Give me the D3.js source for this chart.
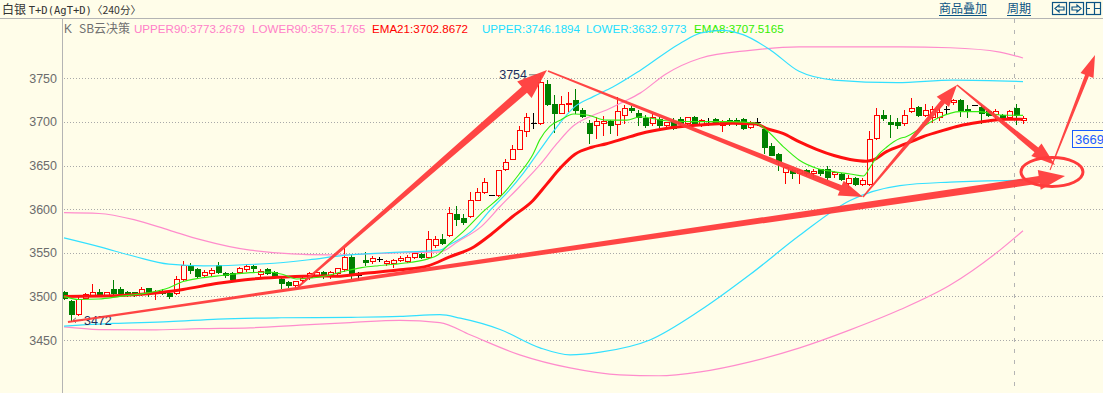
<!DOCTYPE html>
<html>
<head>
<meta charset="utf-8">
<script src="https://cdn.jsdelivr.net/npm/d3@7/dist/d3.min.js"></script>
<style>
  body { margin: 0; background: #fffde9; overflow: hidden; }
  svg { display: block; font-family: "Liberation Sans", Arial, sans-serif; }
</style>
</head>
<body>
<div id="chart"></div>
<script>
// ---- data (bar index 0..137, 240 min bars) ----
var opens = [3505,3495,3480,3498.5,3500.5,3505.5,3501,3509,3509,3505.5,3504.5,3503.5,3509.5,3503.5,3506,3503.5,3503.5,3519.5,3536,3531,
  3524,3526.5,3536,3527,3527,3528.5,3531.5,3535,3525.5,3531,3528,3520,3516,3512.5,3518.5,3522,3524,3527.5,3524,3527,
  3531,3545.5,3524.5,3541.5,3540,3542.5,3538,3538,3541.5,3540.5,3545.5,3548.5,3545.5,3559,3565.5,3570.5,3595,3589.5,3592,3611,
  3620,3616,3616,3645.5,3658,3669.5,3690,3699,3698.5,3743.5,3720.5,3710.5,3720,3725,3713.5,3698.5,3696.5,3698.5,3700.5,3698,
  3708.5,3715.5,3710.5,3705,3698.5,3703,3697,3700.5,3703,3698.5,3706,3697,3701,3703,3697,3702,3702,3703,3694,3699.5,
  3691.5,3672.5,3663,3643,3645,3642,3645,3641,3645.5,3646,3640.5,3640.5,3629.5,3636,3629,3629,3681,3708,3700,3700,
  3698.5,3713,3717.5,3708,3706,3706,3714.5,3723,3725,3714.5,3719.5,3717.5,3712,3709,3708.5,3706,3716.5,3702];
var highs = [3506,3496,3500,3504,3514,3508,3505.5,3519,3511,3506.5,3505.5,3511,3510,3507.5,3508,3504.5,3523.5,3540,3538,3533,
  3530,3532,3539,3528.5,3528.5,3534,3537,3536,3531,3532,3529.5,3521,3518,3518,3522.5,3528,3529,3529,3529,3533,
  3555,3548,3527.5,3550.5,3546,3545,3542,3543,3546.5,3548,3550,3550,3575,3569,3572,3603,3603.5,3594,3620,3624,
  3635.5,3616,3645,3657,3673.5,3695,3710.5,3710,3754,3747.5,3731,3729.5,3734.5,3737.5,3715.5,3702,3706,3707,3702,3728,
  3719.5,3718,3713.5,3708,3709,3706,3700,3704,3706,3706,3707,3703,3704,3704,3702,3704,3704,3704,3700.5,3704,
  3694,3675.5,3664,3648.5,3645.5,3645.5,3645.5,3645.5,3646.5,3649.5,3643.5,3642,3639,3636.5,3635.5,3690,3715.5,3713.5,3708,3704,
  3713.5,3727,3718,3720.5,3718,3716,3718,3726,3726,3719.5,3719.5,3719.5,3714.5,3715,3709,3714,3721,3707];
var lows = [3497,3472,3479,3498,3500,3500.5,3500.5,3502.5,3502.5,3500,3500.5,3501.5,3500.5,3496.5,3502.5,3498,3502.5,3519,3527,3522.5,
  3522.5,3524.5,3527,3522.5,3519,3526.5,3529.5,3529.5,3522.5,3525.5,3522,3509.5,3511,3511,3517.5,3520.5,3522.5,3521.5,3521.5,3525.5,
  3529,3521.5,3520,3536,3538,3540,3536.5,3534,3541,3539,3544.5,3544.5,3543.5,3557,3560,3569,3582,3583.5,3591.5,3610.5,
  3619,3616,3615,3644.5,3657,3668.5,3684,3692.5,3697.5,3719.5,3689,3710,3712,3710,3706,3676,3681,3685,3687,3685,
  3698.5,3711.5,3696.5,3694.5,3696.5,3690.5,3695,3691.5,3696,3697.5,3697,3695,3696.5,3698,3690,3697,3697,3691.5,3693.5,3696.5,
  3664,3662,3645,3630.5,3635.5,3629.5,3639,3636.5,3639,3634.5,3637,3633.5,3625,3627.5,3627.5,3628,3680,3702,3682.5,3692.5,
  3696.5,3711.5,3706.5,3706.5,3700,3702,3710.5,3721,3707,3706,3719.5,3698.5,3706.5,3702,3700.5,3703,3697.5,3699];
var closes = [3498,3480,3497,3502.5,3505,3501.5,3504.5,3504,3503.5,3503,3502,3509,3503.5,3505.5,3503.5,3501,3519.5,3536,3530,3523.5,
  3528.5,3530.5,3528.5,3524,3520.5,3532,3535,3532,3529,3526.5,3523,3515,3512.5,3517.5,3521,3526.5,3527.5,3524,3527.5,3532,
  3545.5,3525.5,3524.5,3539.5,3544.5,3542.5,3541,3541.5,3544.5,3545.5,3549.5,3545.5,3566,3565.5,3561,3596,3588.5,3585,3610.5,3620,
  3631.5,3616,3645,3654.5,3669.5,3690.5,3705.5,3699,3746,3720.5,3710,3720,3722,3713.5,3707,3687.5,3700.5,3701,3697,3712,
  3715.5,3713.5,3705.5,3697,3706,3697,3699.5,3692.5,3699,3705.5,3698.5,3702,3701,3699,3699.5,3698.5,3698.5,3692.5,3699.5,3699.5,
  3671.5,3662,3655.5,3648,3641,3645,3642,3644,3641,3636.5,3643,3634,3635.5,3628.5,3633.5,3680,3708,3705,3698,3697,
  3708,3716.5,3708,3713.5,3715,3711,3714.5,3725,3713.5,3712,3719.5,3710,3708.5,3713,3705.5,3712.5,3708.5,3705];

// indicator lines, [bar index, price]
var upper90 = [[0,3596],[5,3595],[10,3588],[15,3576],[19.5,3565],[26.6,3553],[38,3547.5],[48,3550],[53.7,3551],[56.3,3563],
  [59.6,3580],[62.3,3603],[65.1,3626],[68,3651],[70.4,3675],[72.7,3695],[75.1,3706],[77.6,3714],[79.9,3723],[82.3,3733],
  [86,3755],[90.9,3773],[98,3782],[105,3786],[119.4,3786],[126.6,3785],[133.7,3780],[137,3773.3]];
var lower90 = [[0,3465],[5,3462],[12.3,3461.5],[19.4,3463],[26.6,3464],[33.7,3467],[40.9,3470],[48,3472.6],[53.7,3470],[58,3456],
  [65.1,3433],[72.3,3418],[79.4,3410],[85,3409],[90.9,3413.5],[98,3425],[105.1,3441],[112.3,3461.6],[119.4,3484.6],[126.6,3513],
  [133.7,3553],[137,3575.2]];
var upperB = [[0,3567],[5,3557],[10,3546],[15,3537],[20,3535],[25,3536],[30,3538],[35,3542],[40,3547],[46,3550],[53.7,3553],
  [55,3559],[58.4,3576],[60.9,3599],[63.2,3618],[65.6,3641],[68,3668],[70,3690],[72.9,3717],[75.6,3729],[78.4,3740],[82.3,3759],
  [88,3790],[91,3802],[94,3805],[97,3800],[101,3782],[105,3758],[110,3748],[119,3745],[127,3748],[137,3746.2]];
var lowerB = [[0,3466],[7,3469],[15,3471],[22,3474],[31,3475.5],[41,3476],[48,3477],[53.7,3479],[56.6,3475],[62.3,3462],
  [68,3441],[72.3,3433],[76.6,3436],[83.7,3450],[90.9,3484],[98,3525],[105.1,3570],[112.3,3610],[119.4,3627],[126.6,3631],[137,3633]];
var ema21 = [[0,3500],[8,3501],[12,3503],[17,3508],[22,3515],[27,3520],[31,3522],[36,3523.5],[39,3523],[43,3526.5],[48,3530.5],
  [52,3535],[55,3545],[58.6,3557],[61,3571],[64,3591],[67,3610],[69,3629],[71,3648],[73,3663],[75.4,3671],[77.5,3675],[80,3681],
  [82.3,3686.5],[86,3692.5],[90.8,3696.5],[95.5,3698.4],[98.9,3697.6],[100.3,3692.7],[102.7,3686.9],[105,3677.4],[107.5,3668.6],
  [110,3661.5],[112.3,3657],[114.6,3655],[115.6,3656.4],[117.5,3666],[120.3,3675],[122.7,3683],[125,3688.8],[127.4,3694.5],
  [129.8,3698.4],[132.2,3701.4],[134.6,3703],[137,3702.9]];
var ema8 = [[0,3500],[2,3496.5],[5,3497],[8,3500],[12,3504],[15,3510],[17,3517],[19.5,3521],[22,3523.5],[26.6,3527.2],[29.4,3528],
  [31.3,3525],[33.2,3520],[35.1,3520.7],[37.7,3524],[39.6,3528],[42.5,3533],[44.9,3535.2],[47.2,3536.8],[49.6,3539.1],[52,3543],
  [53.4,3547.5],[55,3560],[57,3574],[60,3598],[62.3,3614],[65,3640],[67,3663],[68,3680],[69.4,3695],[70.9,3702],[72.8,3709],
  [74.7,3708],[77.5,3702],[80.4,3702],[82.3,3706],[86,3701.4],[90.8,3700.3],[95.5,3700.3],[98.9,3698.4],[100.3,3691],[102.7,3672],
  [105,3656.4],[107.5,3647],[109.9,3643],[112.3,3640.3],[114.2,3638],[115,3646],[116.3,3662],[117.5,3671],[119.4,3681],
  [120.3,3683.1],[122.7,3694.5],[125,3705],[128,3711.8],[130.8,3711.8],[133.7,3708],[137,3707.5]];

var yTicks = [3450, 3500, 3550, 3600, 3650, 3700, 3750];
var legendNames = ["UPPER90", "LOWER90", "EMA21", "UPPER", "LOWER", "EMA8"];
var legendValues = ["3773.2679", "3575.1765", "3702.8672", "3746.1894", "3632.9773", "3707.5165"];

// hand-drawn arrows on the chart, [bar index, price]
var arrowFrom = [[0.57,3470.6],[33.43,3510.7],[69.14,3758.4],[114.14,3613.9],[127.57,3742.3],[140.86,3644.9]];
var arrowTo   = [[143,3638],[69,3759.5],[114.14,3613.9],[127.57,3742.3],[141.57,3650.6],[147.29,3776.7]];
var circleAt = [141.14, 3642.6];
var cursorPrice = "3669";

// ---- layout / styles ----
var width = 1103, height = 393;
var plotLeft = 62, plotTop = 19;
var bg = "#fffde9";
var legendColors = ["#ff80c8", "#ff80c8", "#ff0000", "#22ddff", "#22ddff", "#33ee00"];
var legendX = [134, 252, 372, 482, 586, 694];
// [start width, end width, head length, head half width]
var arrowStyle = [[2,7.5,26,10],[2,8,30,11],[1.5,6,24,8],[1.5,5,22,8],[1.5,6,24,8],[1,4,22,7]];
var arrowColor = "#ff3b3b";

var svg = d3.select("#chart").append("svg")
    .attr("width", width)
    .attr("height", height);

svg.append("rect").attr("width", width).attr("height", height).attr("fill", bg);

var x = d3.scaleLinear().domain([0, opens.length - 1]).range([64, 1023]);
var y = d3.scaleLinear().domain([3450, 3750]).range([340, 78.3]);

svg.append("clipPath").attr("id", "plot")
  .append("rect").attr("x", plotLeft + 1).attr("y", plotTop + 1)
  .attr("width", width - plotLeft).attr("height", height - plotTop);

// header
svg.append("line").attr("x1", 0).attr("x2", width).attr("y1", 18.5).attr("y2", 18.5)
    .attr("stroke", "#b4b4b4");
var title = svg.append("text").attr("x", 2).attr("y", 14).attr("fill", "#333").style("font-size", "12px");
title.append("tspan").style("font-family", "'Noto Sans CJK SC'").text("白银 ");
title.append("tspan").style("font-family", "'DejaVu Sans Mono'").style("font-size", "10.5px").text("T+D(AgT+D)");
title.append("tspan").style("font-family", "'Noto Sans CJK SC'").style("font-size", "10.5px").text("〈240分〉");

var linkColor = "#0c5484";
[["商品叠加", 939], ["周期", 1007]].forEach(function(t) {
  var tx = svg.append("text").attr("x", t[1]).attr("y", 13)
      .attr("fill", linkColor).style("font-family", "'Noto Sans CJK SC'").style("font-size", "12px")
      .text(t[0]);
  var w = tx.node().getComputedTextLength();
  svg.append("line").attr("x1", t[1]).attr("x2", t[1] + w).attr("y1", 15.5).attr("y2", 15.5)
      .attr("stroke", linkColor);
});
// little nav buttons
var btn = svg.append("g").attr("fill", "none").attr("stroke", linkColor).attr("stroke-width", 1.2);
[1052.5, 1069.5, 1086.5].forEach(function(bx) {
  btn.append("rect").attr("x", bx).attr("y", 2.5).attr("width", 14).attr("height", 12);
});
btn.append("path").attr("d", "M1055,8.5 L1059,5 L1059,7 L1064,7 L1064,10 L1059,10 L1059,12 Z");
btn.append("path").attr("d", "M1081,8.5 L1077,5 L1077,7 L1072,7 L1072,10 L1077,10 L1077,12 Z");
btn.append("path").attr("d", "M1094.5,2.5 L1094.5,14.5 M1094.5,8.5 L1100.5,8.5 M1086.5,8.5 L1090,8.5");

// legend row
svg.append("text").attr("x", 64).attr("y", 33).attr("fill", "#707070").style("font-size", "12px").text("K");
svg.append("text").attr("x", 79).attr("y", 33).attr("fill", "#707070")
    .style("font-family", "'Noto Sans CJK SC'").style("font-size", "12px").text("SB云决策");
legendNames.forEach(function(n, i) {
  svg.append("text").attr("x", legendX[i]).attr("y", 33).attr("fill", legendColors[i])
      .style("font-size", "11.6px").text(n + ":" + legendValues[i]);
});

// axis line, grid, labels
svg.append("line").attr("x1", plotLeft + 0.5).attr("x2", plotLeft + 0.5).attr("y1", plotTop).attr("y2", height)
    .attr("stroke", "#b4b4b4");
svg.append("line").attr("x1", 1014.5).attr("x2", 1014.5).attr("y1", plotTop).attr("y2", height)
    .attr("stroke", "#b4b4b4").attr("stroke-dasharray", "4,7");
svg.append("g").selectAll("line").data(yTicks).enter().append("line")
    .attr("x1", plotLeft + 2).attr("x2", width)
    .attr("y1", function(d) { return Math.round(y(d)) + 0.5; })
    .attr("y2", function(d) { return Math.round(y(d)) + 0.5; })
    .attr("stroke", "#a9a9a9").attr("stroke-dasharray", "1,2");
svg.append("g").selectAll("text").data(yTicks).enter().append("text")
    .attr("x", 57).attr("y", function(d) { return y(d) + 4.5; })
    .attr("text-anchor", "end").attr("fill", "#6c6c6c").style("font-size", "12.5px")
    .text(function(d) { return d; });

var plot = svg.append("g").attr("clip-path", "url(#plot)");

// candles
var bars = d3.range(opens.length);
var bw = 5;
var cg = plot.append("g").attr("shape-rendering", "crispEdges");
bars.forEach(function(i) {
  var cx = Math.round(x(i)) + 0.5;
  var o = opens[i], c = closes[i];
  var top = Math.round(y(Math.max(o, c))), bot = Math.round(y(Math.min(o, c)));
  var yh = Math.round(y(highs[i])), yl = Math.round(y(lows[i]));
  if (o === c) {
    cg.append("line").attr("x1", cx).attr("x2", cx).attr("y1", yh).attr("y2", yl + 1).attr("stroke", "#000");
    cg.append("line").attr("x1", cx - 2.5).attr("x2", cx + 3.5).attr("y1", top + 0.5).attr("y2", top + 0.5).attr("stroke", "#000");
  } else if (c > o) {
    cg.append("line").attr("x1", cx).attr("x2", cx).attr("y1", yh).attr("y2", top).attr("stroke", "#ff0000");
    cg.append("line").attr("x1", cx).attr("x2", cx).attr("y1", bot).attr("y2", yl + 1).attr("stroke", "#ff0000");
    cg.append("rect").attr("x", cx - 2.5).attr("y", top + 0.5).attr("width", bw)
        .attr("height", Math.max(1, bot - top)).attr("fill", bg).attr("stroke", "#ff0000");
  } else {
    cg.append("line").attr("x1", cx).attr("x2", cx).attr("y1", yh).attr("y2", yl + 1).attr("stroke", "#008000");
    cg.append("rect").attr("x", cx - 2.5).attr("y", top).attr("width", bw + 1)
        .attr("height", Math.max(1, bot - top + 1)).attr("fill", "#008000");
  }
});

// indicator lines
var line = d3.line().x(function(d) { return x(d[0]); }).y(function(d) { return y(d[1]); })
    .curve(d3.curveMonotoneX);
[[upper90, "#ff8ccc", 1.2], [lower90, "#ff8ccc", 1.2], [upperB, "#33e0ff", 1.2], [lowerB, "#33e0ff", 1.2],
 [ema21, "#ff1010", 3], [ema8, "#33ee11", 1.1]].forEach(function(s) {
  plot.append("path").datum(s[0]).attr("d", line).attr("fill", "none")
      .attr("stroke", s[1]).attr("stroke-width", s[2]);
});

// max / min markers
var hiIdx = d3.maxIndex(highs), loIdx = d3.minIndex(lows);
var navy = "#1b2f5e";
svg.append("text").attr("x", x(hiIdx) - 13).attr("y", y(highs[hiIdx]) + 4.5)
    .attr("text-anchor", "end").attr("fill", navy).style("font-size", "12.5px").text(d3.max(highs));
svg.append("line").attr("x1", x(hiIdx) - 11).attr("x2", x(hiIdx) - 3)
    .attr("y1", y(highs[hiIdx])).attr("y2", y(highs[hiIdx])).attr("stroke", "#777");
svg.append("text").attr("x", x(loIdx) + 13).attr("y", y(lows[loIdx]) + 4)
    .attr("fill", navy).style("font-size", "12.5px").text(d3.min(lows));
svg.append("path").attr("fill", "none").attr("stroke", "#777")
    .attr("d", "M" + (x(loIdx) + 12) + "," + (y(lows[loIdx]) - 0.5) + "H" + (x(loIdx) + 2) +
      "M" + (x(loIdx) + 5) + "," + (y(lows[loIdx]) - 3) + "L" + (x(loIdx) + 2) + "," + (y(lows[loIdx]) - 0.5) +
      "L" + (x(loIdx) + 5) + "," + (y(lows[loIdx]) + 2));

// hand-drawn arrows
function arrowPath(p1, p2, st) {
  var dx = p2[0] - p1[0], dy = p2[1] - p1[1], len = Math.sqrt(dx * dx + dy * dy);
  var ux = dx / len, uy = dy / len, nx = -uy, ny = ux;
  var bx = p2[0] - ux * st[2], by = p2[1] - uy * st[2];
  var pts = [
    [p1[0] + nx * st[0] / 2, p1[1] + ny * st[0] / 2],
    [bx + nx * st[1] / 2, by + ny * st[1] / 2],
    [bx + nx * st[3], by + ny * st[3]],
    p2,
    [bx - nx * st[3], by - ny * st[3]],
    [bx - nx * st[1] / 2, by - ny * st[1] / 2],
    [p1[0] - nx * st[0] / 2, p1[1] - ny * st[0] / 2]
  ];
  return "M" + pts.map(function(p) { return p[0].toFixed(1) + "," + p[1].toFixed(1); }).join("L") + "Z";
}
var ag = svg.append("g").attr("fill", arrowColor).attr("fill-opacity", 0.95);
arrowFrom.forEach(function(a, i) {
  var p1 = [x(a[0]), y(a[1])], p2 = [x(arrowTo[i][0]), y(arrowTo[i][1])];
  ag.append("path").attr("d", arrowPath(p1, p2, arrowStyle[i]));
});
svg.append("ellipse").attr("cx", x(circleAt[0])).attr("cy", y(circleAt[1]))
    .attr("rx", 31).attr("ry", 14.5).attr("fill", "none").attr("stroke", arrowColor).attr("stroke-width", 3);

// price tag at right
svg.append("rect").attr("x", 1072.5).attr("y", 130.5).attr("width", 32).attr("height", 17)
    .attr("fill", bg).attr("stroke", "#1a5cff");
svg.append("text").attr("x", 1075).attr("y", 144).attr("fill", "#1a5cff")
    .style("font-size", "13px").text(cursorPrice);
</script>
</body>
</html>
